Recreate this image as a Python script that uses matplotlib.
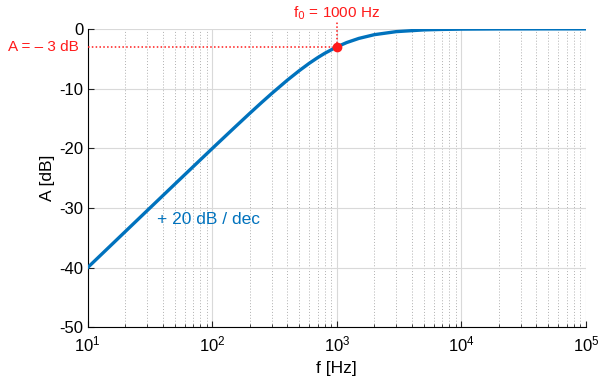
import matplotlib
matplotlib.use('Agg')
import matplotlib.pyplot as plt
import numpy as np

plt.rcParams['font.family'] = ['Liberation Sans', 'DejaVu Sans']

# values
freq = [10, 15, 20, 30, 50, 70, 100, 150, 200, 250, 300, 400, 500, 600, 700, 800,
        1000, 1200, 1500, 2000, 3000, 5000, 7000, 10000, 20000, 50000, 100000]
gain = [-40.0, -36.48, -33.98, -30.46, -26.03, -23.12, -20.04, -16.58, -14.15, -12.30,
        -10.83, -8.60, -6.99, -5.77, -4.83, -4.09, -3.01, -2.29, -1.60, -0.97, -0.46,
        -0.17, -0.09, -0.04, -0.01, 0.0, 0.0]
f0 = 1000
a0 = -3
blue = '#0072BD'
red = '#FF1A1A'

fig = plt.figure(figsize=(6.01, 3.80), dpi=100)
ax = fig.add_axes([0.146, 0.139, 0.829, 0.785])

ax.semilogx(freq, gain, color=blue, linewidth=2.4, zorder=3)
ax.set_xlim(10, 1e5)
ax.set_ylim(-50, 0)
ax.set_yticks([-50, -40, -30, -20, -10, 0])
ax.set_yticklabels(['-50', '-40', '-30', '-20', '-10', '0'])

ax.grid(True, which='major', color='#d9d9d9', linewidth=0.8, linestyle='-')
ax.grid(True, which='minor', axis='x', color='#b0b0b0', linewidth=0.7, linestyle=(0, (1, 2)))
ax.set_axisbelow(True)

for s in ['top', 'right']:
    ax.spines[s].set_visible(False)
ax.spines['left'].set_linewidth(0.8)
ax.spines['bottom'].set_linewidth(0.8)
ax.tick_params(which='both', direction='in', labelsize=12, color='#222222')
ax.tick_params(which='major', length=4)
ax.tick_params(which='minor', length=2.5)
ax.tick_params(axis='x', pad=5)
ax.tick_params(axis='y', pad=3)

# marker and guide lines
ax.plot([10, f0], [a0, a0], color=red, linestyle=(0, (1, 1.5)), linewidth=1.1, zorder=4, clip_on=False)
ax.plot([f0, f0], [a0, 1.1], color=red, linestyle=(0, (1, 1.5)), linewidth=1.1, zorder=4, clip_on=False)
ax.plot([f0], [a0], 'o', color=red, markersize=6, zorder=5)

ax.text(f0, 1.1, r'f$_0$ = 1000 Hz', color=red, fontsize=11, ha='center', va='bottom')
ax.text(8.4, a0, 'A = \u2013 3 dB', color=red, fontsize=11, ha='right', va='center')
ax.text(36, -32, '+ 20 dB / dec', color=blue, fontsize=12.5, ha='left', va='center')

ax.set_xlabel('f [Hz]', fontsize=12.5, labelpad=5)
ax.set_ylabel('A [dB]', fontsize=12.5, labelpad=3)

fig.savefig('out.png', dpi=100)
